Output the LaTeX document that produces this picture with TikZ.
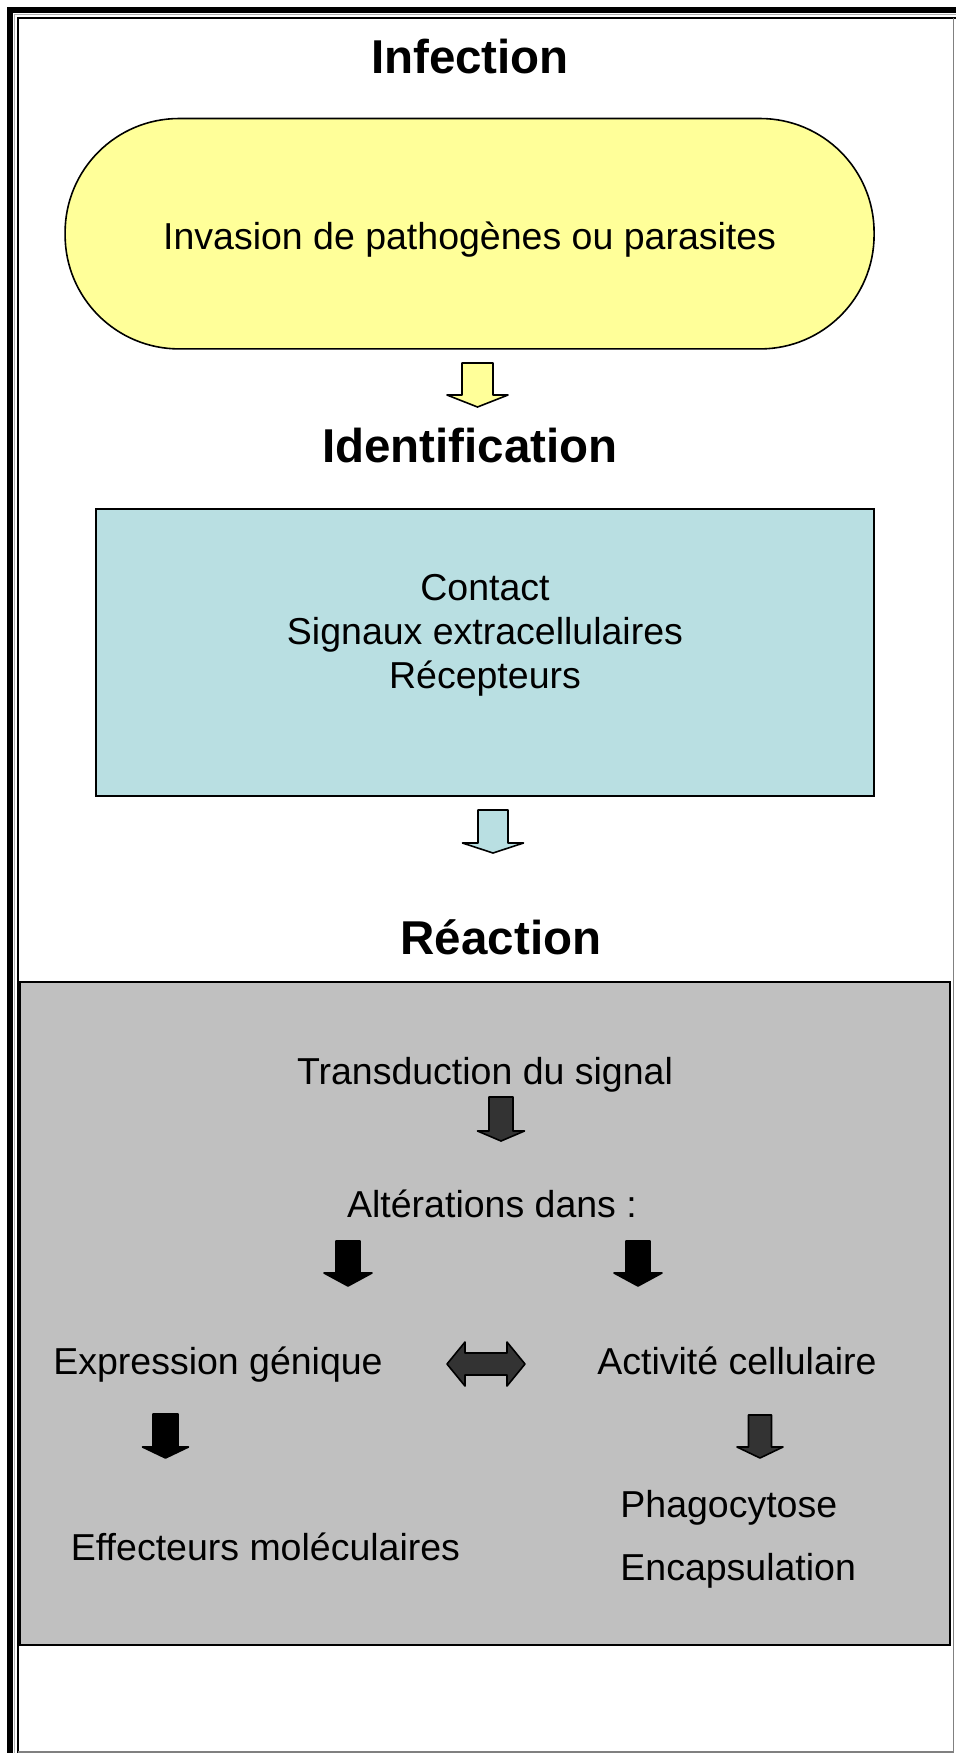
\documentclass[tikz,border=0pt]{standalone}
\usepackage{fontspec}
\setmainfont{Liberation Sans}
\definecolor{paleyellow}{RGB}{255,255,153}
\definecolor{paleblue}{RGB}{185,223,226}
\definecolor{boxgray}{RGB}{192,192,192}
\definecolor{darkarrow}{RGB}{51,51,51}
\newcommand\blkarrow[7]{% cx, top, shaft half, head half, headY, tip, fill
  \filldraw[fill=#7, draw=black, line width=0.8pt, line join=round]
    (#1-#3,#2) -- (#1+#3,#2) -- (#1+#3,#5) -- (#1+#4,#5) -- (#1,#6)
    -- (#1-#4,#5) -- (#1-#3,#5) -- cycle;}
\begin{document}
\begin{tikzpicture}[x=0.5pt,y=-0.5pt,
  title/.style={font=\fontsize{23.75pt}{28pt}\selectfont\bfseries, anchor=base, inner sep=0},
  body/.style={font=\fontsize{18.75pt}{22pt}\selectfont, anchor=base, inner sep=0},
  bodyl/.style={body, anchor=base west}]
\useasboundingbox (0,0) rectangle (956,1753);
% frame
\fill[white] (0,0) rectangle (956,1753);
\fill[black] (7,7) rectangle (956,13);
\fill[black] (7,7) rectangle (13,1753);
\draw[gray!60, line width=0.5pt] (14.8,1753) -- (14.8,14.8) -- (956,14.8);
\draw[black, line width=1pt] (18,1753) -- (18,17.5) -- (956,17.5);
\draw[gray, line width=0.8pt] (953.5,17.5) -- (953.5,1751.8) -- (18,1751.8);

% Infection
\node[title] (tInf) at (470,73) {Infection};
\node[draw=black, fill=paleyellow, line width=0.8pt, rounded corners=57pt,
      minimum width=404.5pt, minimum height=115.2pt, inner sep=0] (inv) at (469.6,233.7) {};
\node[body] (tInv) at (469.6,249) {Invasion de pathogènes ou parasites};
\blkarrow{477.5}{363}{15.5}{30.5}{395}{407}{paleyellow}

% Identification
\node[title] (tId) at (470,462) {Identification};
\node[draw=black, fill=paleblue, line width=0.8pt, minimum width=389pt, minimum height=143.6pt, inner sep=0] (idbox) at (485,652.4) {};
\node[body] (c1) at (485,600) {Contact};
\node[body] (c2) at (485,644) {Signaux extracellulaires};
\node[body] (c3) at (485,688) {Récepteurs};
\blkarrow{493}{810}{15}{30.5}{843}{853}{paleblue}

% Reaction
\node[title] (tRe) at (501,954) {Réaction};
\node[draw=black, fill=boxgray, line width=1.1pt, minimum width=465pt, minimum height=331.5pt, inner sep=0] (rbox) at (485,1313.5) {};
\node[body] (tr) at (485,1084) {Transduction du signal};
\blkarrow{501}{1097}{12}{23.5}{1131}{1141}{darkarrow}
\node[body] (alt) at (492,1217) {Altérations dans :};
\blkarrow{348}{1241}{12}{24}{1273}{1286}{black}
\blkarrow{638}{1241}{12}{24}{1273}{1286}{black}
\node[body] (expr) at (218,1374) {Expression génique};
\node[body] (act) at (737,1374) {Activité cellulaire};
\filldraw[fill=darkarrow, draw=black, line width=0.8pt, line join=round]
  (447,1364) -- (465,1342) -- (465,1353) -- (507,1353) -- (507,1342) -- (525,1364)
  -- (507,1386) -- (507,1375) -- (465,1375) -- (465,1386) -- cycle;
\blkarrow{165.5}{1414}{12.5}{23}{1447}{1458}{black}
\blkarrow{760}{1415}{11.5}{23}{1447}{1458}{darkarrow}
\node[bodyl] (phago) at (620,1517) {Phagocytose};
\node[body] (eff) at (265.5,1560) {Effecteurs moléculaires};
\node[bodyl] (enc) at (620,1580) {Encapsulation};
\end{tikzpicture}
\end{document}
